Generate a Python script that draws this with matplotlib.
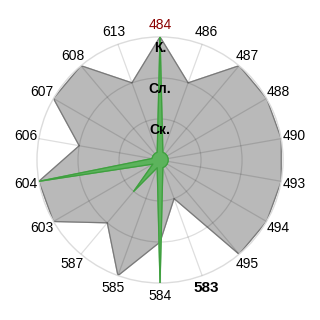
import numpy as np
import matplotlib.pyplot as plt

plt.rcParams['font.family'] = ['Liberation Sans', 'DejaVu Sans']

# категории по часовой стрелке, начиная сверху
cats = ['484', '486', '487', '488', '490', '493', '494', '495', '583',
        '584', '585', '587', '603', '604', '606', '607', '608', '613']
gray_vals = [3, 2, 3, 3, 3, 3, 3, 3, 1, 2, 3, 2, 3, 3, 2, 3, 3, 2]
green_vals = [3, 0.2, 0.2, 0.2, 0.2, 0.2, 0.2, 0.2, 0.2,
              3, 0.2, 1, 0.2, 3, 0.2, 0.2, 0.2, 0.2]
ring_vals = [1, 2, 3]
ring_labels = ['Ск.', 'Сл.', 'К.']

n = len(cats)
theta = np.arange(n) * 2 * np.pi / n

fig = plt.figure(figsize=(3.2, 3.2), dpi=100)
ax = fig.add_axes([0.1156, 0.1156, 0.769, 0.769], projection='polar')
ax.set_theta_offset(np.pi / 2)
ax.set_theta_direction(-1)

th = np.append(theta, 2 * np.pi)
g = np.append(gray_vals, gray_vals[0])
gr = np.append(green_vals, green_vals[0])

ax.fill(th, g, color='#b9b9b9', zorder=1)
ax.plot(th, g, color='#7a7a7a', lw=0.9, zorder=1.5)
ax.fill(th, gr, color='#5cb35c', zorder=3)
ax.plot(th, gr, color='#3f9f3f', lw=0.9, zorder=3.5)

ax.set_ylim(0, 3)
ax.set_yticks([1, 2])
ax.set_yticklabels([])
ax.set_xticks(theta)
ax.set_xticklabels([])
ax.set_axisbelow(False)
ax.grid(True, color='k', alpha=0.13, lw=0.9)
ax.spines['polar'].set_color('#dcdcdc')
ax.spines['polar'].set_linewidth(1.0)
ax.tick_params(length=0)

# подписи категорий
for t, c in zip(theta, cats):
    if c == '484':
        ax.text(t, 3.3, c, ha='center', va='center', fontsize=10, color='#8b0000', clip_on=False)
    elif c == '583':
        ax.text(t, 3.32, c, ha='center', va='center', fontsize=11, fontweight='bold', clip_on=False)
    else:
        ax.text(t, 3.32, c, ha='center', va='center', fontsize=10, clip_on=False)

# подписи колец
for r, lab in zip(ring_vals, ring_labels):
    ax.text(0, r - 0.1, lab, ha='center', va='top', fontsize=10,
            fontweight='bold', zorder=5)

fig.savefig('out.png', dpi=100)
